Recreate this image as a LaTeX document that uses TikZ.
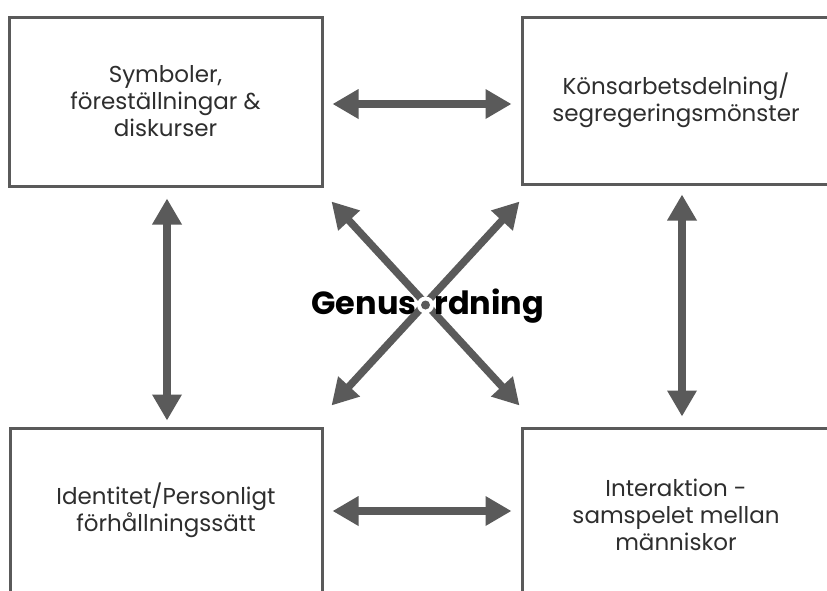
\documentclass[tikz,border=0pt]{standalone}
\usepackage{fontspec}
\setmainfont{Poppins}
\usetikzlibrary{arrows.meta,calc,positioning}

\definecolor{linegray}{HTML}{5A5A5A}
\definecolor{textgray}{HTML}{2E2E2E}

\begin{document}
\begin{tikzpicture}[x=1pt, y=-1pt,
    box/.style={draw=linegray, line width=3pt, align=center, text=textgray,
        font=\fontsize{23}{27}\selectfont, inner sep=0pt},
    twoway/.style={{Triangle[length=26pt,width=28pt]}-{Triangle[length=26pt,width=28pt]},
        draw=linegray, line width=7.5pt},
    title/.style={font=\fontsize{32}{32}\selectfont\bfseries, text=black, inner sep=0pt}]
    \useasboundingbox (0,0) rectangle (827,590);
    \clip (0,0) rectangle (827,590);
    \fill[white] (0,0) rectangle (827,590);

    % the four boxes
    \node[box, minimum width=313pt, minimum height=169pt] (sym) at (165.5,101.5)
        {Symboler,\\föreställningar \&\\diskurser};
    \node[box, minimum width=308pt, minimum height=167pt] (kon) at (676,100.5)
        {Könsarbetsdelning/\\segregeringsmönster};
    \node[box, minimum width=312pt, minimum height=165pt] (ident) at (166,510.5)
        {Identitet/Personligt\\förhållningssätt};
    \node[box, minimum width=308pt, minimum height=174pt] (inter) at (676,515)
        {Interaktion -\\samspelet mellan\\människor};

    % arrows between the boxes
    \draw[twoway] ($(sym.east)+(9,2.5)$) -- ($(kon.west)+(-9,3.5)$);
    \draw[twoway] ($(ident.east)+(9,0.5)$) -- ($(inter.west)+(-9,-4)$);
    \draw[twoway] ($(sym.south)+(1.5,11)$) -- ($(ident.north)+(1,-6)$);
    \draw[twoway] ($(kon.south)+(6,9)$) -- ($(inter.north)+(6,-10)$);
    \draw[twoway] ($(sym.south east)+(8,14)$) -- ($(inter.north west)+(-1,-21)$);
    \draw[twoway] ($(kon.south west)+(-1,16)$) -- ($(ident.north east)+(8,-21)$);

    % centre label
    \node[circle, fill=white, minimum size=17pt, inner sep=0pt] (hub) at (425.5,305) {};
    \fill[linegray] (hub) circle (4.5);
    \node[title, anchor=base east] (genus) at ([yshift=-9pt]hub.west) {Genus};
    \node[title, anchor=base west] (rdning) at ([yshift=-9pt]hub.east) {rdning};
\end{tikzpicture}
\end{document}
